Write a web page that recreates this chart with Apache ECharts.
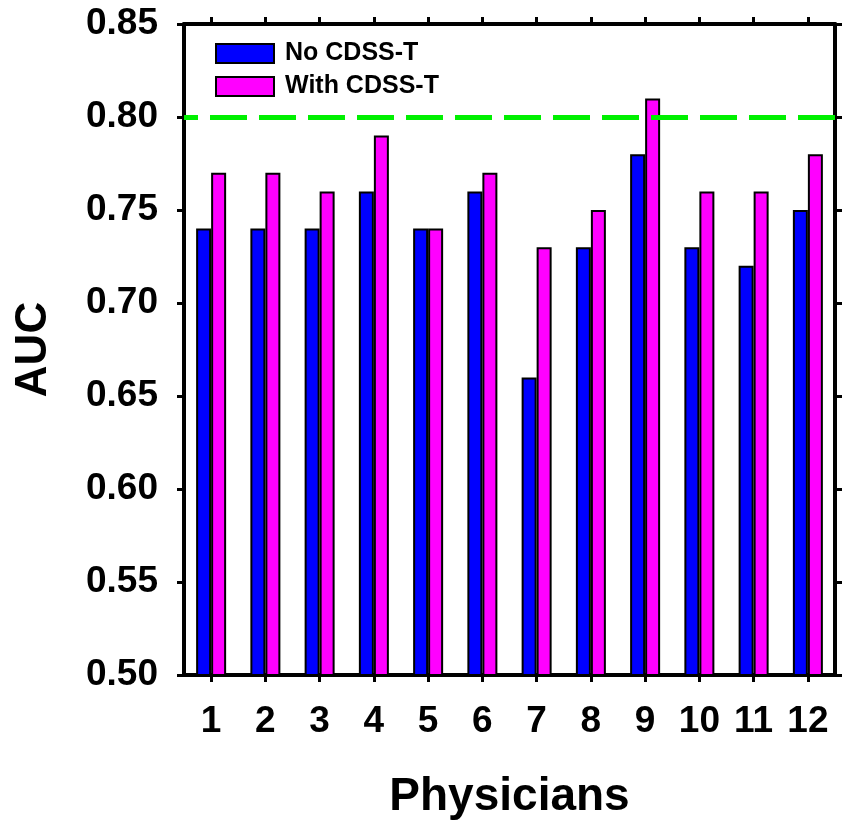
<!DOCTYPE html>
<html>
<head>
<meta charset="utf-8">
<script src="https://cdn.jsdelivr.net/npm/echarts@6/dist/echarts.min.js"></script>
<style>
  html, body { margin: 0; padding: 0; background: #fff; }
  #chart { width: 842px; height: 825px; }
</style>
</head>
<body>
<div id="chart"></div>
<script>
// AUC per physician
var physicians = ["1", "2", "3", "4", "5", "6", "7", "8", "9", "10", "11", "12"];
var noCdss = [0.74, 0.74, 0.74, 0.76, 0.74, 0.76, 0.66, 0.73, 0.78, 0.73, 0.72, 0.75];
var withCdss = [0.77, 0.77, 0.76, 0.79, 0.74, 0.77, 0.73, 0.75, 0.81, 0.76, 0.76, 0.78];
var yTicks = [0.50, 0.55, 0.60, 0.65, 0.70, 0.75, 0.80, 0.85];
var refLine = 0.80;

var font = "'Liberation Sans', Arial, sans-serif";
var axisLine = { show: true, onZero: false, lineStyle: { color: "#000", width: 4 } };
var tickOut = { show: true, inside: false, length: 7, lineStyle: { color: "#000", width: 3 } };

const chart = echarts.init(document.getElementById("chart"));
let option = {
  animation: false,
  backgroundColor: "#fff",
  textStyle: { fontFamily: font },
  grid: { left: 184, right: 7, top: 24, bottom: 149 },
  legend: {
    data: ["No CDSS-T", "With CDSS-T"],
    orient: "vertical",
    left: 210,
    top: 36,
    icon: "rect",
    itemWidth: 58,
    itemHeight: 19,
    itemGap: 8,
    textStyle: { fontSize: 25, fontWeight: "bold", color: "#000", fontFamily: font, padding: [0, 0, 0, 6] },
  },
  xAxis: [
    {
      type: "category",
      data: physicians,
      position: "bottom",
      axisLine: axisLine,
      axisTick: Object.assign({ alignWithLabel: true }, tickOut),
      axisLabel: { fontSize: 37, fontWeight: "bold", color: "#000", margin: 28, fontFamily: font },
      name: "Physicians",
      nameLocation: "middle",
      nameGap: 99,
      nameTextStyle: { fontSize: 46, fontWeight: "bold", color: "#000", fontFamily: font },
    },
    {
      type: "category",
      data: physicians,
      position: "top",
      axisLine: axisLine,
      axisTick: Object.assign({ alignWithLabel: true }, tickOut),
      axisLabel: { show: false },
    },
  ],
  yAxis: [
    {
      type: "value",
      min: yTicks[0],
      max: yTicks[yTicks.length - 1],
      interval: 0.05,
      position: "left",
      axisLine: axisLine,
      axisTick: tickOut,
      splitLine: { show: false },
      axisLabel: {
        fontSize: 37,
        fontWeight: "bold",
        color: "#000",
        margin: 26,
        fontFamily: font,
        formatter: function (v) { return v.toFixed(2); },
      },
      name: "AUC",
      nameLocation: "middle",
      nameGap: 128,
      nameTextStyle: { fontSize: 44, fontWeight: "bold", color: "#000", fontFamily: font },
    },
    {
      type: "value",
      min: yTicks[0],
      max: yTicks[yTicks.length - 1],
      interval: 0.05,
      position: "right",
      axisLine: axisLine,
      axisTick: tickOut,
      splitLine: { show: false },
      axisLabel: { show: false },
    },
  ],
  series: [
    {
      name: "ref",
      type: "bar",
      data: [],
      z: 1,
      markLine: {
        silent: true,
        symbol: "none",
        label: { show: false },
        lineStyle: { color: "#00f000", width: 5, type: [37, 12], dashOffset: 23 },
        data: [{ yAxis: refLine }],
      },
    },
    {
      name: "No CDSS-T",
      type: "bar",
      data: noCdss,
      barWidth: 15,
      barGap: "0%",
      z: 3,
      itemStyle: { color: "#0000ff", borderColor: "#000", borderWidth: 2 },
    },
    {
      name: "With CDSS-T",
      type: "bar",
      data: withCdss,
      barWidth: 15,
      barGap: "0%",
      z: 3,
      itemStyle: { color: "#ff00ff", borderColor: "#000", borderWidth: 2 },
    },
  ],
};
chart.setOption(option);
</script>
</body>
</html>
